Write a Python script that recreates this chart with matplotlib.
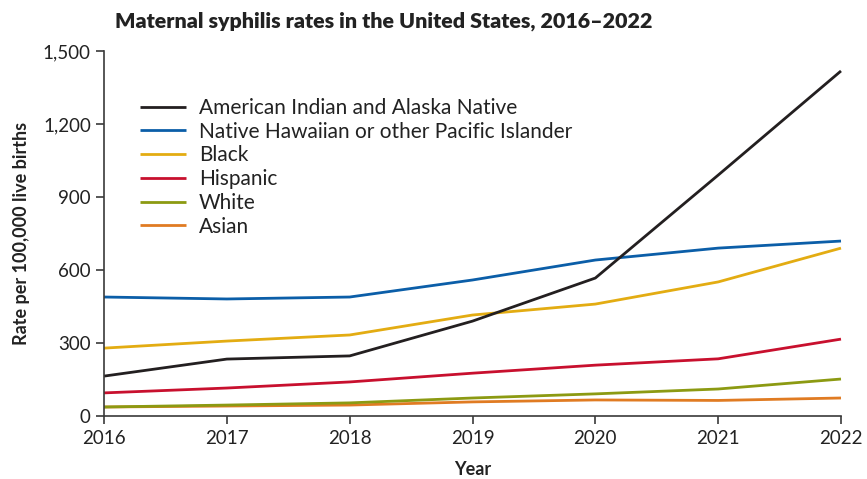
import matplotlib.pyplot as plt
from matplotlib.ticker import FuncFormatter

plt.rcParams['font.family'] = ['Lato', 'DejaVu Sans']

years = [2016, 2017, 2018, 2019, 2020, 2021, 2022]
aian = [164, 234, 247, 390, 567, 990, 1418]
nhpi = [489, 481, 489, 559, 641, 690, 719]
black = [279, 308, 333, 415, 460, 551, 690]
hispanic = [95, 115, 140, 176, 209, 235, 316]
white = [37, 45, 54, 74, 91, 111, 152]
asian = [37, 41, 45, 58, 66, 64, 74]

labels = ['American Indian and Alaska Native',
          'Native Hawaiian or other Pacific Islander',
          'Black', 'Hispanic', 'White', 'Asian']
colors = ['#231f20', '#0b5ea8', '#e3ac12', '#c8102e', '#8c9a12', '#e07b22']

fig = plt.figure(figsize=(8.67, 4.79), dpi=100)
ax = fig.add_axes([0.12, 0.1315, 0.85, 0.762])

series = [aian, nhpi, black, hispanic, white, asian]
# draw bottom-up so the black line sits on top
for vals, lab, col in reversed(list(zip(series, labels, colors))):
    ax.plot(years, vals, color=col, lw=2.0, label=lab, clip_on=False,
            solid_capstyle='butt')

ax.set_xlim(2016, 2022)
ax.set_ylim(0, 1500)
ax.set_xticks(years)
ax.set_yticks([0, 300, 600, 900, 1200, 1500])
ax.yaxis.set_major_formatter(FuncFormatter(lambda v, p: f'{int(v):,}'))

for s in ['top', 'right']:
    ax.spines[s].set_visible(False)
for s in ['left', 'bottom']:
    ax.spines[s].set_color('#3a3a3a')
    ax.spines[s].set_linewidth(1.2)
ax.tick_params(axis='both', colors='#3a3a3a', labelcolor='#222222',
               labelsize=13.5, width=1.2, length=6)
ax.tick_params(axis='x', pad=4)

ax.set_xlabel('Year', fontsize=13, fontweight='bold', color='#222222', labelpad=10)
ax.set_ylabel('Rate per 100,000 live births', fontsize=13, fontweight='bold',
              color='#222222', labelpad=9)

handles, labs = ax.get_legend_handles_labels()
order = [labs.index(l) for l in labels]
ax.legend([handles[i] for i in order], [labs[i] for i in order],
          loc='upper left', bbox_to_anchor=(0.035, 0.9), frameon=False,
          fontsize=15, handlelength=2.2, handletextpad=0.62,
          labelspacing=0.18, borderpad=0, labelcolor='#222222')

fig.text(0.133, 0.955, 'Maternal syphilis rates in the United States, 2016\u20132022',
         fontsize=15.4, fontweight='heavy', color='#222222', va='center')

fig.savefig('out.png', dpi=100)
